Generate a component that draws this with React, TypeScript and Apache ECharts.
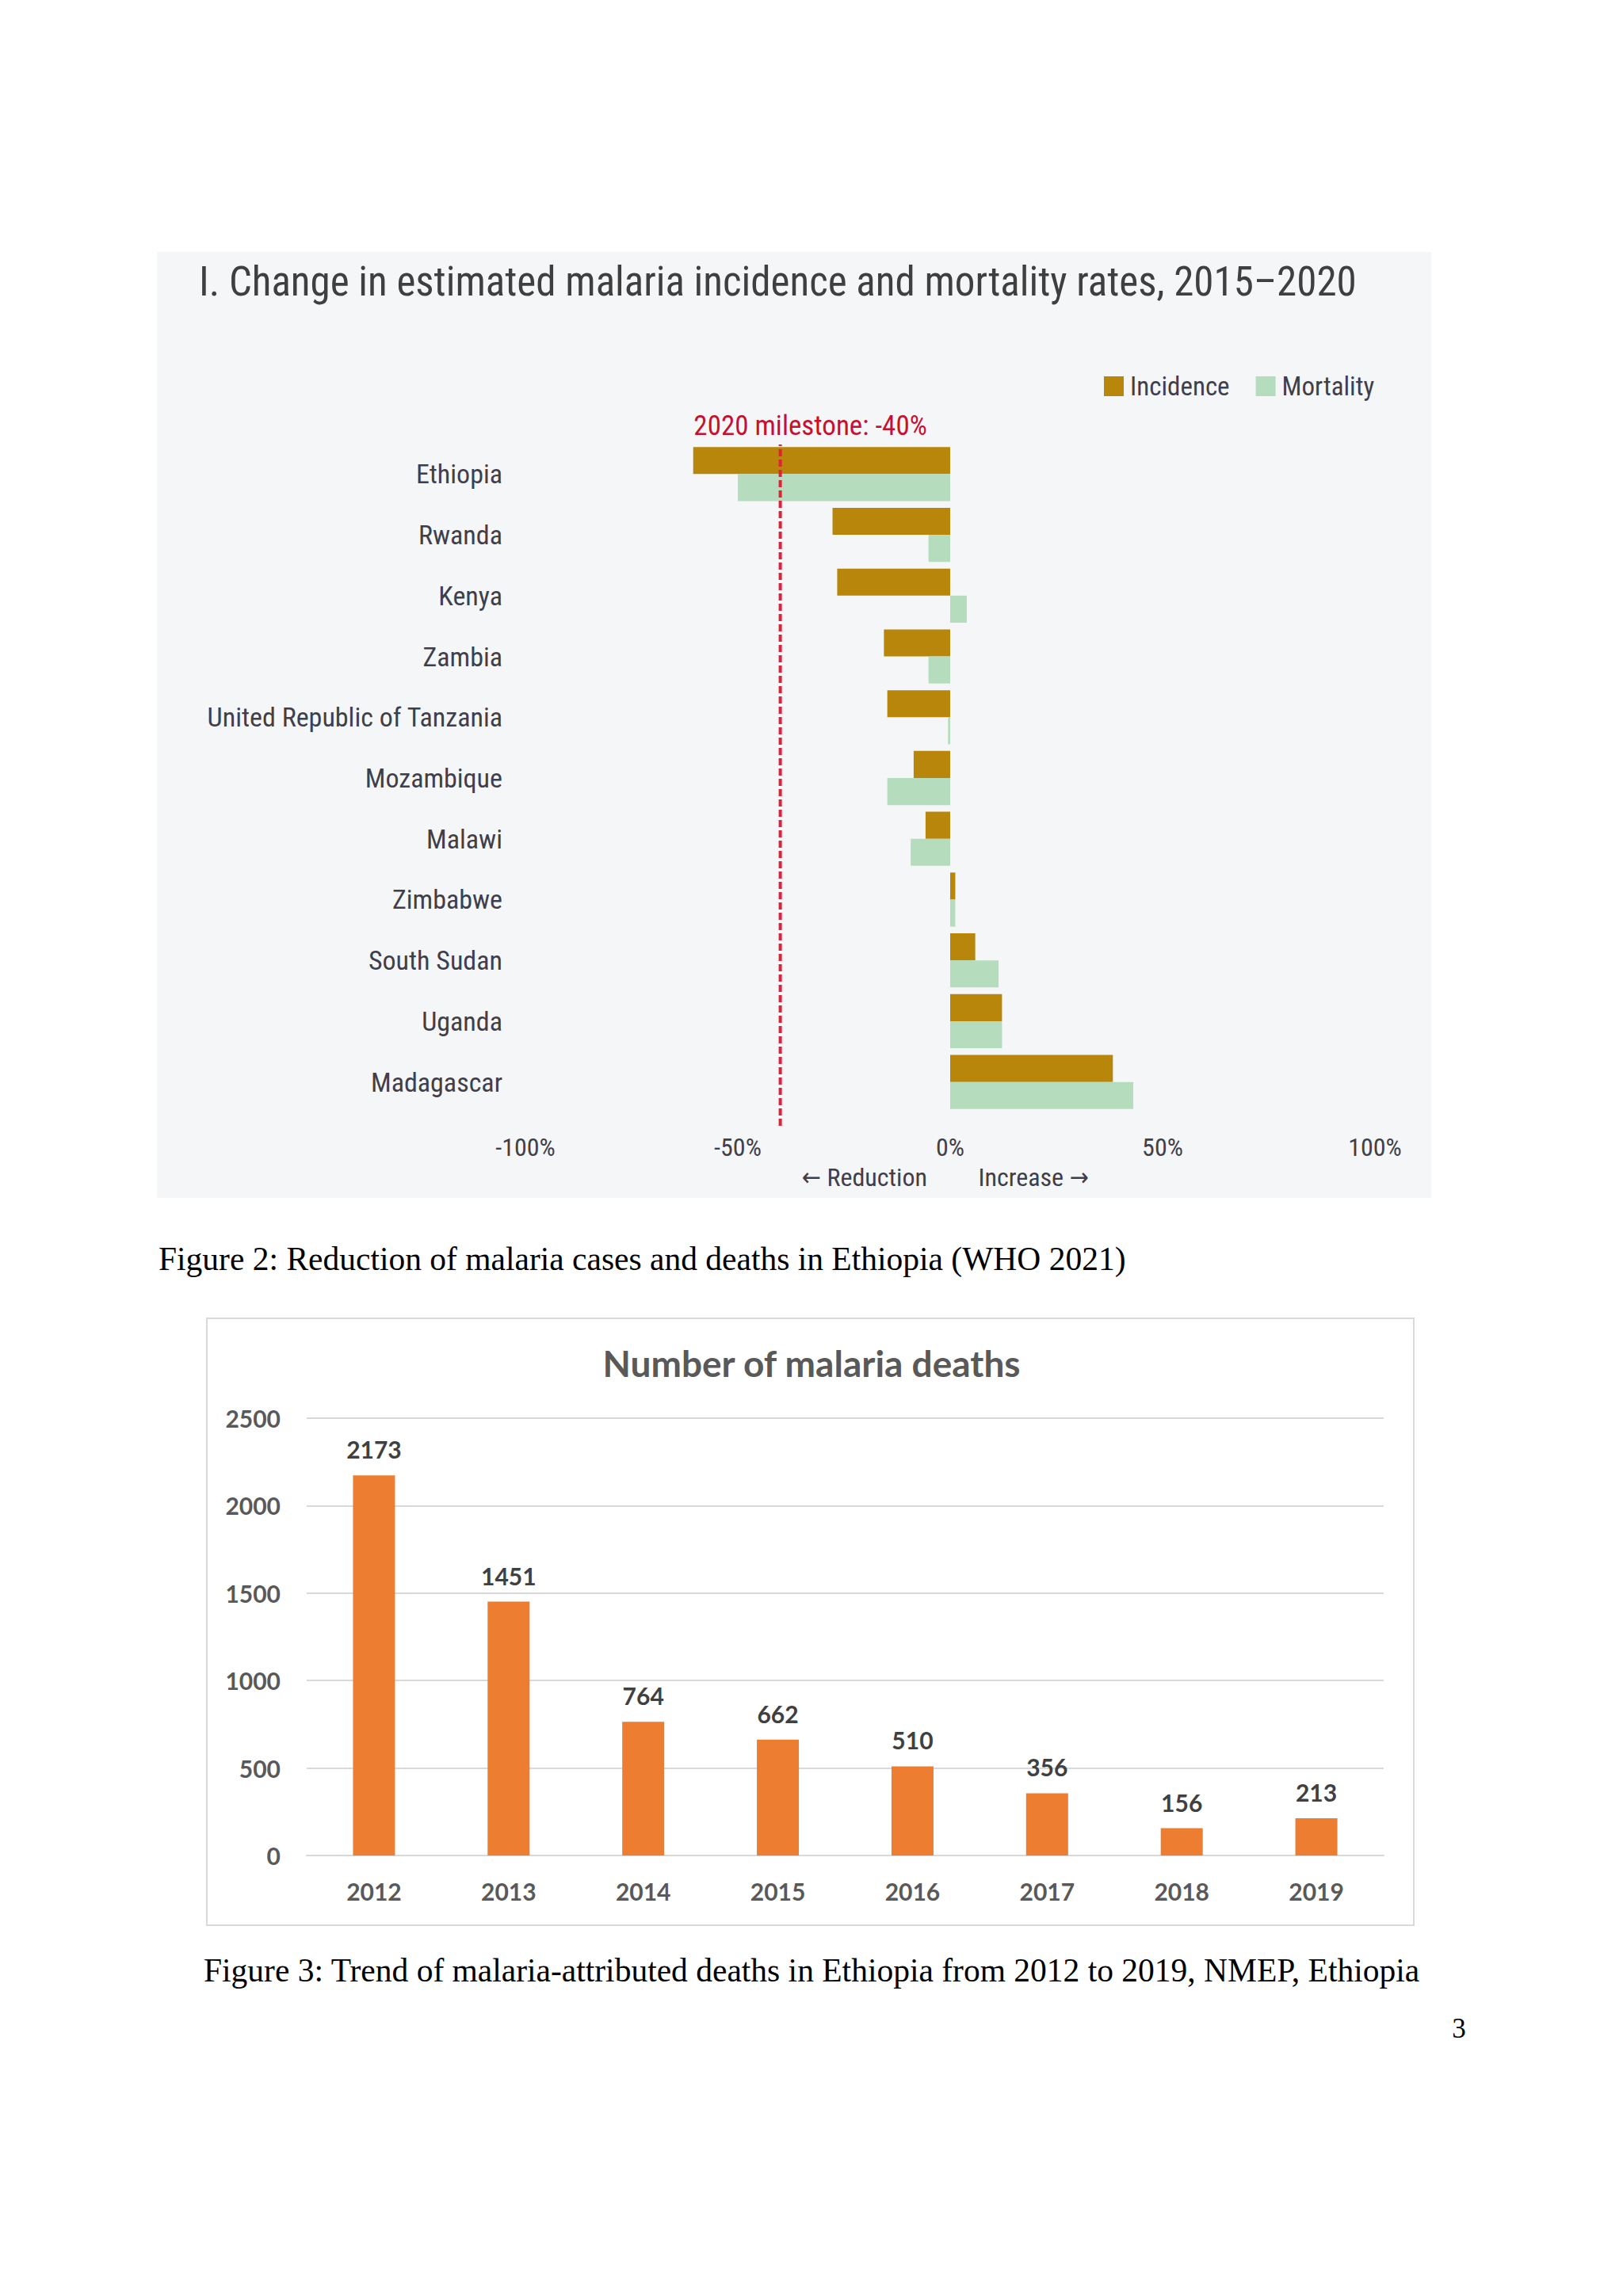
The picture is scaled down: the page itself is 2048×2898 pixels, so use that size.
import React, { useEffect, useRef } from "react";
import * as echarts from "echarts";

// ---- Figure 2 data ----
const countries = [
  "Ethiopia",
  "Rwanda",
  "Kenya",
  "Zambia",
  "United Republic of Tanzania",
  "Mozambique",
  "Malawi",
  "Zimbabwe",
  "South Sudan",
  "Uganda",
  "Madagascar",
];
const incidence = [-60.5, -27.7, -26.6, -15.6, -14.8, -8.6, -5.8, 1.2, 5.9, 12.2, 38.3];
const mortality = [-50, -5.1, 3.9, -5.1, -0.5, -14.8, -9.3, 1.2, 11.4, 12.2, 43.1];
const milestone = -40;
const pctMin = -100;
const pctMax = 100;
const pctStep = 50;

// ---- Figure 3 data ----
const years = ["2012", "2013", "2014", "2015", "2016", "2017", "2018", "2019"];
const deaths = [2173, 1451, 764, 662, 510, 356, 156, 213];
const deathMax = 2500;
const deathStep = 500;

const NARROW = "'Liberation Sans Narrow', 'Roboto Condensed', 'DejaVu Sans Condensed', sans-serif";
const BOLD = "Lato, 'Open Sans', sans-serif";
const SERIF = "'Liberation Serif', 'DejaVu Serif', serif";

export default function App() {
  const ref = useRef<HTMLDivElement>(null);

  useEffect(() => {
    if (!ref.current) return;
    const chart = echarts.init(ref.current, null, { renderer: "svg" });
    const option: any = {
      animation: false,
      backgroundColor: "#ffffff",
      title: [
        {
          text: "I. Change in estimated malaria incidence and mortality rates, 2015–2020",
          left: 251,
          top: 330,
          padding: 0,
          textStyle: {
            fontFamily: NARROW,
            fontSize: 51,
            lineHeight: 51,
            fontWeight: "normal",
            color: "#3f3f3f",
          },
        },
        {
          text: "Number of malaria deaths",
          left: "center",
          top: 1697,
          padding: 0,
          textStyle: {
            fontFamily: BOLD,
            fontSize: 46,
            lineHeight: 46,
            fontWeight: "bold",
            color: "#595959",
          },
        },
      ],
      legend: {
        data: ["Incidence", "Mortality"],
        left: 1388,
        top: 466,
        icon: "rect",
        itemWidth: 25,
        itemHeight: 25,
        itemGap: 33,
        textStyle: { fontFamily: NARROW, fontSize: 33, color: "#3f3f4b", padding: [0, 0, 0, 3] },
      },
      graphic: [
        {
          type: "rect",
          z: -10,
          shape: { x: 198, y: 318, width: 1608, height: 1194 },
          style: { fill: "#f5f6f8" },
        },
        {
          type: "rect",
          z: -10,
          shape: { x: 261, y: 1664, width: 1523, height: 766 },
          style: { fill: "#ffffff", stroke: "#d9d9d9", lineWidth: 2 },
        },
        {
          type: "text",
          x: 1091,
          y: 1486,
          style: {
            text: "← Reduction",
            font: `32px ${NARROW}`,
            fill: "#3f3f4b",
            align: "center",
            verticalAlign: "middle",
          },
        },
        {
          type: "text",
          x: 1304,
          y: 1486,
          style: {
            text: "Increase →",
            font: `32px ${NARROW}`,
            fill: "#3f3f4b",
            align: "center",
            verticalAlign: "middle",
          },
        },
        {
          type: "text",
          x: 200,
          y: 1589,
          style: {
            text: "Figure 2: Reduction of malaria cases and deaths in Ethiopia (WHO 2021)",
            font: `41.5px ${SERIF}`,
            fill: "#000000",
            align: "left",
            verticalAlign: "middle",
          },
        },
        {
          type: "text",
          x: 257,
          y: 2487,
          style: {
            text: "Figure 3: Trend of malaria-attributed deaths in Ethiopia from 2012 to 2019, NMEP, Ethiopia",
            font: `41.5px ${SERIF}`,
            fill: "#000000",
            align: "left",
            verticalAlign: "middle",
          },
        },
        {
          type: "text",
          x: 1841,
          y: 2560,
          style: {
            text: "3",
            font: `35px ${SERIF}`,
            fill: "#000000",
            align: "center",
            verticalAlign: "middle",
          },
        },
      ],
      grid: [
        { left: 663, top: 560, width: 1072, height: 844 },
        { left: 387, top: 1790, width: 1359, height: 552 },
        { left: 663, top: 561, width: 1072, height: 860 },
      ],
      xAxis: [
        {
          gridIndex: 0,
          type: "value",
          min: pctMin,
          max: pctMax,
          interval: pctStep,
          axisLine: { show: false },
          axisTick: { show: false },
          splitLine: { show: false },
          axisLabel: {
            formatter: "{value}%",
            fontFamily: NARROW,
            fontSize: 32,
            color: "#404048",
            margin: 28,
          },
        },
        {
          gridIndex: 1,
          type: "category",
          data: years,
          axisTick: { show: false },
          axisLine: { lineStyle: { color: "#d9d9d9", width: 2 } },
          axisLabel: {
            fontFamily: BOLD,
            fontWeight: "bold",
            fontSize: 30,
            color: "#595959",
            margin: 30,
          },
        },
        {
          gridIndex: 2,
          type: "value",
          min: pctMin,
          max: pctMax,
          show: false,
        },
      ],
      yAxis: [
        {
          gridIndex: 0,
          type: "category",
          data: countries,
          inverse: true,
          axisLine: { show: false },
          axisTick: { show: false },
          splitLine: { show: false },
          axisLabel: {
            fontFamily: NARROW,
            fontSize: 34,
            color: "#3f3f4b",
            margin: 29,
          },
        },
        {
          gridIndex: 1,
          type: "value",
          min: 0,
          max: deathMax,
          interval: deathStep,
          axisLine: { show: false },
          axisTick: { show: false },
          splitLine: { lineStyle: { color: "#d9d9d9", width: 2 } },
          axisLabel: {
            formatter: (v: number) => String(v),
            fontFamily: BOLD,
            fontWeight: "bold",
            fontSize: 30,
            color: "#595959",
            margin: 33,
          },
        },
        {
          gridIndex: 2,
          type: "value",
          min: 0,
          max: 1,
          show: false,
        },
      ],
      series: [
        {
          name: "Incidence",
          type: "bar",
          xAxisIndex: 0,
          yAxisIndex: 0,
          data: incidence,
          barGap: "0%",
          barCategoryGap: "11%",
          itemStyle: { color: "#b8860b" },
        },
        {
          name: "Mortality",
          type: "bar",
          xAxisIndex: 0,
          yAxisIndex: 0,
          data: mortality,
          barGap: "0%",
          barCategoryGap: "11%",
          itemStyle: { color: "#b5dcbc" },
        },
        {
          name: "Deaths",
          type: "bar",
          xAxisIndex: 1,
          yAxisIndex: 1,
          data: deaths,
          barWidth: 53,
          itemStyle: { color: "#ed7d31" },
          label: {
            show: true,
            position: "top",
            distance: 18,
            fontFamily: BOLD,
            fontWeight: "bold",
            fontSize: 30,
            color: "#404040",
          },
        },
        {
          name: "Milestone",
          type: "line",
          xAxisIndex: 2,
          yAxisIndex: 2,
          z: 10,
          symbol: "circle",
          symbolSize: 1,
          showSymbol: true,
          itemStyle: { color: "rgba(0,0,0,0)" },
          lineStyle: { color: "#e3203a", width: 4, type: [9, 4] },
          label: { show: false },
          data: [
            [milestone, 0],
            {
              value: [milestone, 1],
              label: {
                show: true,
                position: "top",
                distance: 6,
                offset: [38, 0],
                formatter: `2020 milestone: ${milestone}%`,
                fontFamily: NARROW,
                fontSize: 35,
                color: "#c8102e",
              },
            },
          ],
        },
      ],
    };
    chart.setOption(option);
    return () => chart.dispose();
  }, []);

  return (
    <div
      ref={ref}
      style={{ position: "absolute", left: 0, top: 0, width: 2048, height: 2898, background: "#ffffff" }}
    />
  );
}
